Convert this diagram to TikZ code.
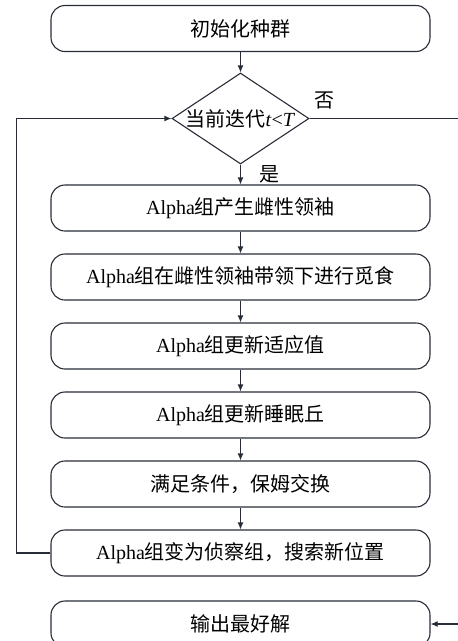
\documentclass[tikz,border=0pt]{standalone}
\usepackage{fontspec}
\setmainfont{Liberation Serif}
\newfontfamily\cjk{Noto Sans CJK SC}
\usetikzlibrary{shapes.geometric,arrows.meta}
\definecolor{linecol}{RGB}{40,44,56}
\begin{document}
\begin{tikzpicture}[x=1pt,y=-1pt,
  box/.style={draw=linecol, line width=1.1pt, rounded corners=14pt, minimum width=379pt, minimum height=46pt, inner sep=0pt, font=\fontsize{20}{24}\selectfont},
  dia/.style={draw=linecol, line width=1.1pt, diamond, minimum width=137pt, minimum height=91pt, inner sep=0pt},
  lbl/.style={font=\fontsize{20}{24}\selectfont, inner sep=0pt},
  arr/.style={line width=1.1pt, draw=linecol, -{Latex[length=7pt,width=6pt]}}]
\useasboundingbox (0,0) rectangle (458,641);
\node[box] (b1) at (240.5,28.5) {\cjk 初始化种群};
\node[dia] (d) at (240.5,118.5) {};
\node[lbl] (dt) at (d.center) {{\cjk 当前迭代}\textit{t}<\textit{T}};
\node[box] (b2) at (240.5,208) {Alpha{\cjk 组产生雌性领袖}};
\node[box] (b3) at (240.5,277) {Alpha{\cjk 组在雌性领袖带领下进行觅食}};
\node[box] (b4) at (240.5,346) {Alpha{\cjk 组更新适应值}};
\node[box] (b5) at (240.5,415) {Alpha{\cjk 组更新睡眠丘}};
\node[box] (b6) at (240.5,484) {\cjk 满足条件，保姆交换};
\node[box] (b7) at (240.5,553) {Alpha{\cjk 组变为侦察组，搜索新位置}};
\node[box] (b8) at (240.5,624) {\cjk 输出最好解};
\node[lbl] (no) at (324,100) {\cjk 否};
\node[lbl] (yes) at (269,174) {\cjk 是};
\coordinate (r) at (475,118.5);
\draw[arr] (b1) -- (d);
\draw[arr] (d) -- (b2);
\draw[arr] (b2) -- (b3);
\draw[arr] (b3) -- (b4);
\draw[arr] (b4) -- (b5);
\draw[arr] (b5) -- (b6);
\draw[arr] (b6) -- (b7);
\draw[arr] (b7.west) -- ++(-34,0) |- (d.west);
\draw[arr] (d.east) -- (r) |- (b8.east);
\end{tikzpicture}
\end{document}
